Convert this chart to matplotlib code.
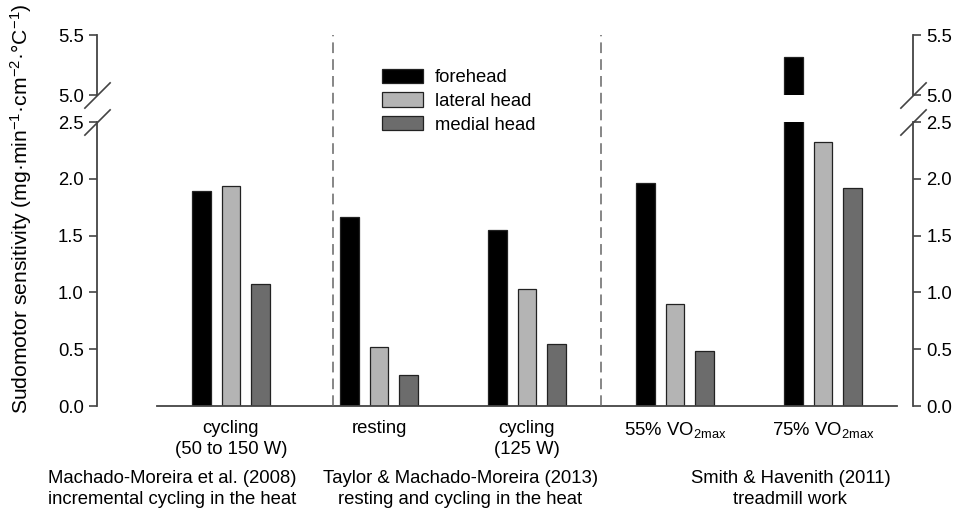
import numpy as np
import matplotlib
matplotlib.use("Agg")
import matplotlib.pyplot as plt
from matplotlib.lines import Line2D
from matplotlib.transforms import blended_transform_factory

plt.rcParams['font.family'] = ['Liberation Sans', 'DejaVu Sans']
plt.rcParams['mathtext.fontset'] = 'custom'
plt.rcParams['mathtext.rm'] = 'Liberation Sans'
plt.rcParams['mathtext.it'] = 'Liberation Sans:italic'
plt.rcParams['mathtext.bf'] = 'Liberation Sans:bold'

# data
conditions = ['cycling\n(50 to 150 W)', 'resting', 'cycling\n(125 W)',
              '55% VO$_{\\mathregular{2max}}$', '75% VO$_{\\mathregular{2max}}$']
forehead = [1.89, 1.66, 1.55, 1.96, 5.32]
lateral_head = [1.94, 0.52, 1.03, 0.90, 2.32]
medial_head = [1.07, 0.27, 0.55, 0.48, 1.92]
studies = ['Machado-Moreira et al. (2008)\nincremental cycling in the heat',
           'Taylor & Machado-Moreira (2013)\nresting and cycling in the heat',
           'Smith & Havenith (2011)\ntreadmill work']
study_x = [-0.40, 1.55, 3.78]
separators = [0.69, 2.5]

series = [('forehead', forehead, '#000000'),
          ('lateral head', lateral_head, '#b4b4b4'),
          ('medial head', medial_head, '#6c6c6c')]

fig = plt.figure(figsize=(9.55, 5.17), dpi=100)
ax_up = fig.add_axes([0.1016, 0.8162, 0.8544, 0.1161])
ax = fig.add_axes([0.1016, 0.2147, 0.8544, 0.5493])

x = np.arange(len(conditions))
width = 0.128
offsets = [-0.2, 0.0, 0.2]
spine_col = '#444444'
fs = 13.3

for a in (ax, ax_up):
    for (name, vals, col), off in zip(series, offsets):
        a.bar(x + off, vals, width, color=col, edgecolor='#222222',
              linewidth=0.9, label=name)
    a.set_xlim(-0.905, 4.608)
    for s in ('left', 'right'):
        a.spines[s].set_color(spine_col)
        a.spines[s].set_linewidth(1.3)
    a.spines['top'].set_visible(False)
    a.tick_params(axis='y', direction='out', length=5.5, width=1.2,
                  color=spine_col, labelsize=fs, right=True, labelright=True,
                  pad=4)

ax.set_ylim(0, 2.5)
ax.set_yticks(np.arange(0, 2.51, 0.5))
ax.yaxis.set_major_formatter(matplotlib.ticker.FormatStrFormatter('%.1f'))
ax.spines['bottom'].set_color(spine_col)
ax.spines['bottom'].set_linewidth(1.3)
ax.spines['bottom'].set_bounds(-0.5, 4.5)
ax.set_xticks(x)
ax.set_xticklabels(conditions, fontsize=fs, linespacing=1.3)
ax.tick_params(axis='x', length=0, pad=10)

ax_up.set_ylim(5.0, 5.5)
ax_up.set_yticks([5.0, 5.5])
ax_up.yaxis.set_major_formatter(matplotlib.ticker.FormatStrFormatter('%.1f'))
ax_up.spines['bottom'].set_visible(False)
ax_up.set_xticks([])

# break marks
kw = dict(marker=[(-1, -1), (1, 1)], markersize=19, linestyle='none',
          color=spine_col, mec=spine_col, mew=1.2, clip_on=False)
ax_up.plot([0, 1], [0, 0], transform=ax_up.transAxes, **kw)
ax.plot([0, 1], [1, 1], transform=ax.transAxes, **kw)

# dashed separators spanning both panels
tr = blended_transform_factory(ax.transData, fig.transFigure)
y_bot = ax.get_position().y0
y_top = ax_up.get_position().y1
for sx in separators:
    fig.add_artist(Line2D([sx, sx], [y_bot, y_top], transform=tr,
                          color='#666666', lw=1.1, ls=(0, (7, 4))))

# study labels
for sx, txt in zip(study_x, studies):
    fig.text(sx, 0.090, txt, transform=tr, ha='center', va='top',
             fontsize=fs, linespacing=1.3)

fig.text(0.022, 0.596, 'Sudomotor sensitivity (mg·min$^{-1}$·cm$^{-2}$·°C$^{-1}$)',
         rotation=90, ha='center', va='center', fontsize=15.2)

handles, labels = ax.get_legend_handles_labels()
fig.legend(handles, labels, loc='upper left', bbox_to_anchor=(0.400, 0.867),
           frameon=False, fontsize=fs, handlelength=2.22, handleheight=0.81,
           labelspacing=0.33, handletextpad=0.65, borderpad=0, borderaxespad=0)

fig.savefig('out.png', dpi=100)
